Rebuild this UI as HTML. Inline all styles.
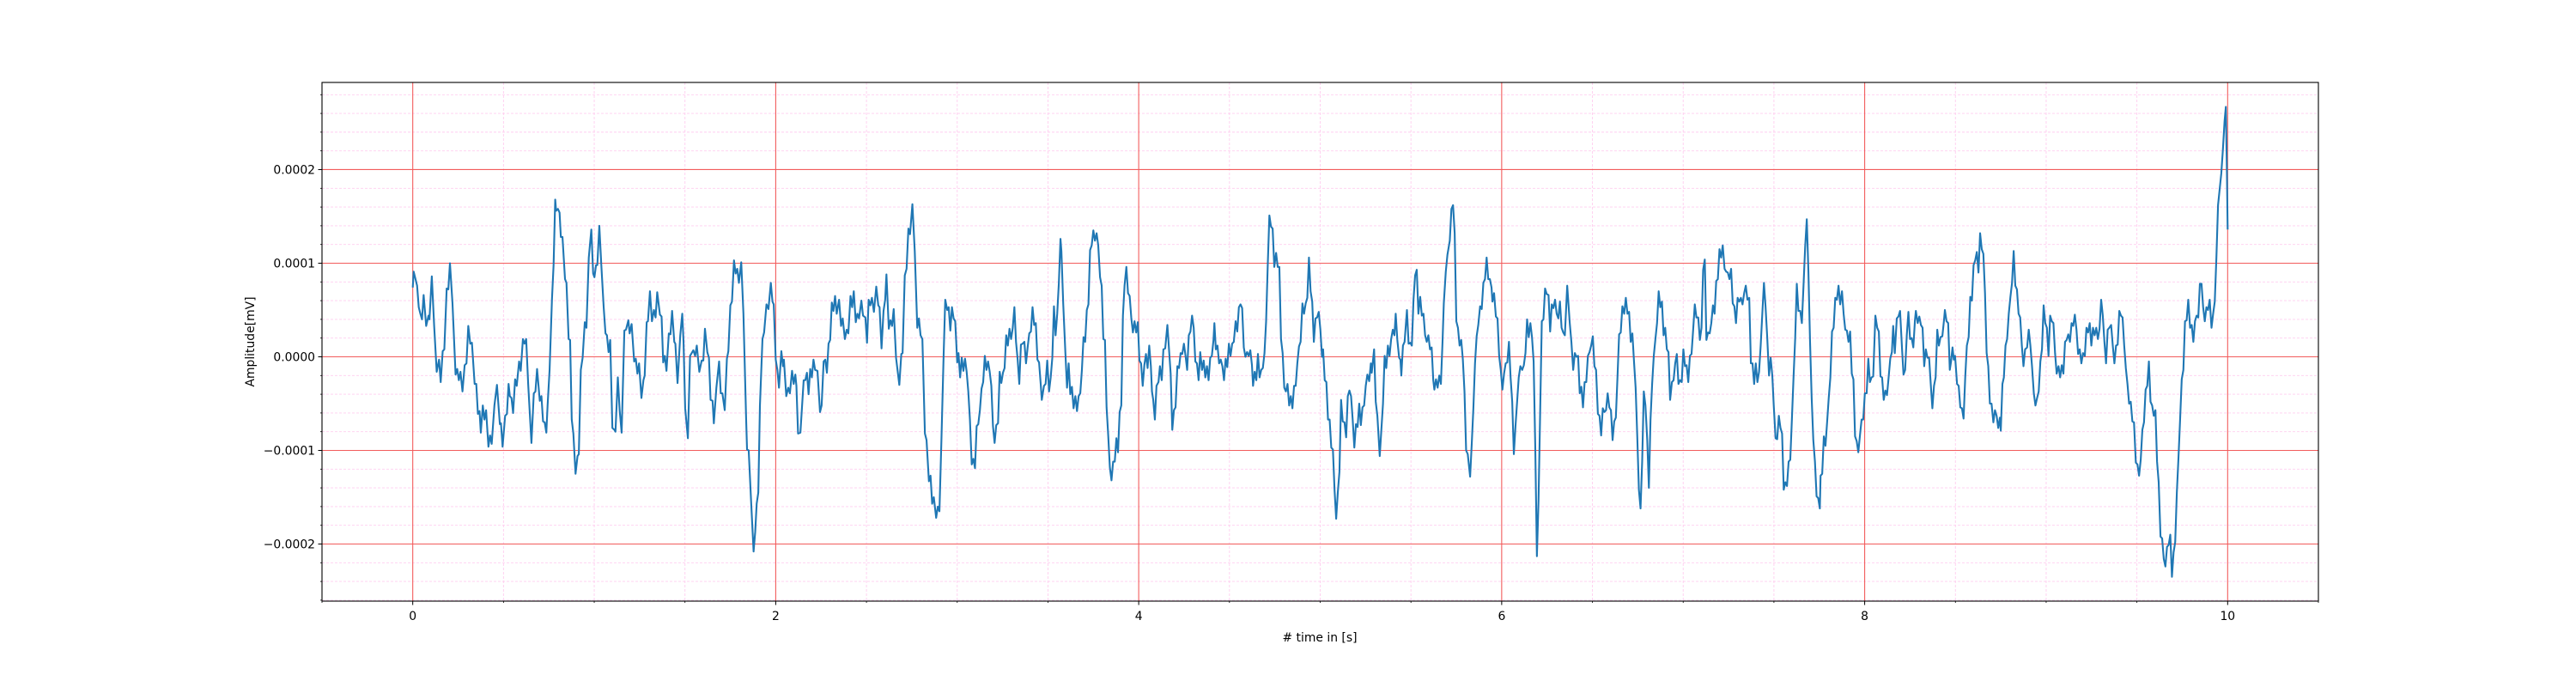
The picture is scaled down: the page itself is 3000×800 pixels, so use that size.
<!DOCTYPE html>
<html><head><meta charset="utf-8"><title>Signal</title>
<style>
html,body{margin:0;padding:0;background:#fff;}
svg{display:block;font-family:"DejaVu Sans","Liberation Sans",sans-serif;}
</style></head>
<body>
<svg id="chart" width="3000" height="800" viewBox="0 0 3000 800" xmlns="http://www.w3.org/2000/svg">
<rect x="0" y="0" width="3000" height="800" fill="#fff"/>
<g id="minor-grid"></g>
<g id="major-grid"></g>
<g id="series"></g>
<g id="axes"></g>
<text x="1537" y="747" font-size="13.9" text-anchor="middle" fill="#000"># time in [s]</text>
<text transform="translate(296,398) rotate(-90)" font-size="13.9" text-anchor="middle" fill="#000">Amplitude[mV]</text>
</svg>
<script>
const xTicks = [0, 2, 4, 6, 8, 10];
const xTickLabels = ["0", "2", "4", "6", "8", "10"];
const yTicks = [0.0002, 0.0001, 0, -0.0001, -0.0002];
const yTickLabels = ["0.0002", "0.0001", "0.0000", "\u22120.0001", "\u22120.0002"];
const valueScale = 1e-6;
const T = [0,0.005,0.024,0.033,0.042,0.051,0.060,0.074,0.087,0.092,0.105,0.118,0.132,0.145,0.154,0.165,0.174,0.187,0.196,0.205,0.219,0.236,0.245,0.254,0.263,0.274,0.286,0.296,0.306,0.317,0.326,0.341,0.350,0.359,0.368,0.375,0.386,0.395,0.404,0.417,0.426,0.435,0.450,0.464,0.480,0.486,0.495,0.509,0.519,0.528,0.535,0.544,0.553,0.564,0.573,0.586,0.595,0.607,0.616,0.625,0.636,0.654,0.667,0.676,0.685,0.700,0.709,0.718,0.727,0.736,0.743,0.754,0.767,0.776,0.785,0.790,0.800,0.809,0.816,0.825,0.839,0.847,0.859,0.867,0.876,0.885,0.897,0.908,0.915,0.926,0.936,0.948,0.957,0.970,0.984,0.994,1.001,1.010,1.017,1.028,1.039,1.052,1.062,1.070,1.079,1.088,1.093,1.100,1.111,1.117,1.130,1.140,1.151,1.166,1.175,1.188,1.195,1.206,1.220,1.229,1.238,1.247,1.260,1.271,1.278,1.289,1.296,1.307,1.318,1.329,1.338,1.347,1.362,1.371,1.380,1.389,1.398,1.411,1.420,1.429,1.441,1.447,1.459,1.474,1.485,1.492,1.501,1.516,1.528,1.537,1.546,1.556,1.565,1.579,1.592,1.601,1.610,1.623,1.632,1.641,1.652,1.659,1.673,1.688,1.697,1.706,1.719,1.731,1.739,1.750,1.759,1.770,1.779,1.788,1.797,1.810,1.822,1.837,1.842,1.851,1.864,1.878,1.887,1.895,1.904,1.913,1.927,1.936,1.949,1.960,1.973,1.982,1.989,2.000,2.009,2.018,2.031,2.040,2.045,2.058,2.069,2.078,2.090,2.099,2.108,2.114,2.123,2.136,2.154,2.163,2.172,2.181,2.190,2.199,2.208,2.217,2.230,2.244,2.253,2.264,
2.273,2.282,2.291,2.300,2.309,2.318,2.327,2.336,2.349,2.360,2.369,2.381,2.391,2.400,2.412,2.421,2.430,2.441,2.450,2.459,2.472,2.481,2.494,2.503,2.512,2.521,2.530,2.541,2.554,2.565,2.572,2.583,2.594,2.603,2.610,2.623,2.632,2.641,2.650,2.663,2.681,2.692,2.699,2.711,2.721,2.731,2.740,2.753,2.766,2.780,2.789,2.798,2.808,2.822,2.831,2.844,2.853,2.862,2.871,2.884,2.893,2.902,2.913,2.925,2.934,2.945,2.953,2.962,2.971,2.980,2.989,3.000,3.007,3.016,3.025,3.034,3.043,3.052,3.061,3.070,3.080,3.089,3.098,3.107,3.116,3.125,3.134,3.143,3.152,3.161,3.170,3.179,3.188,3.197,3.206,3.215,3.225,3.234,3.243,3.252,3.261,3.270,3.279,3.288,3.297,3.306,3.315,3.324,3.333,3.342,3.351,3.360,3.370,3.379,3.388,3.397,3.406,3.415,3.424,3.433,3.442,3.451,3.460,3.466,3.478,3.487,3.496,3.506,3.515,3.524,3.533,3.542,3.551,3.560,3.569,3.574,3.584,3.596,3.605,3.614,3.623,3.632,3.641,3.651,3.660,3.669,3.678,3.687,3.696,3.705,3.714,3.723,3.732,3.741,3.750,3.759,3.768,3.777,3.787,3.796,3.805,3.814,3.823,3.832,3.841,3.850,3.859,3.868,3.877,3.886,3.895,3.904,3.913,3.922,3.932,3.941,3.950,3.959,3.968,3.977,3.986,3.995,4.004,4.013,4.022,4.031,4.040,4.049,4.058,4.067,4.073,4.080,4.089,4.098,4.109,4.117,4.127,4.136,4.146,4.158,4.167,4.176,4.185,4.194,4.203,4.213,4.222,4.231,4.240,4.249,4.258,4.267,4.276,4.285,4.294,4.303,4.312,4.321,4.330,4.339,4.349,4.358,4.367,4.376,4.385,4.394,4.403,4.412,4.417,4.425,4.434,4.443,4.452,4.461,4.470,4.479,4.488,4.497,4.506,4.515,4.524,4.534,4.543,4.552,4.561,4.570,4.579,4.588,4.597,4.606,4.615,4.624,4.630,4.639,4.648,4.657,4.666,4.675,4.684,4.693,4.702,4.711,4.720,4.729,4.738,4.747,4.757,4.766,4.775,4.784,4.793,4.802,4.811,4.820,4.829,4.838,4.847,4.856,4.865,4.874,4.883,4.892,4.902,4.911,4.920,4.929,4.938,4.947,4.956,4.965,4.974,4.983,4.992,5.001,5.010,
5.016,5.025,5.034,5.043,5.052,5.061,5.070,5.079,5.088,5.097,5.106,5.115,5.124,5.134,5.143,5.152,5.161,5.170,5.179,5.188,5.197,5.206,5.215,5.224,5.233,5.242,5.251,5.260,5.270,5.279,5.284,5.297,5.306,5.315,5.328,5.337,5.346,5.355,5.364,5.373,5.382,5.391,5.400,5.409,5.416,5.425,5.435,5.442,5.447,5.456,5.465,5.478,5.487,5.496,5.505,5.514,5.523,5.532,5.541,5.551,5.560,5.569,5.578,5.587,5.596,5.605,5.614,5.623,5.629,5.638,5.647,5.656,5.665,5.674,5.681,5.692,5.701,5.714,5.723,5.732,5.741,5.750,5.759,5.768,5.777,5.786,5.795,5.804,5.813,5.826,5.835,5.844,5.853,5.862,5.871,5.881,5.890,5.899,5.908,5.917,5.926,5.935,5.944,5.949,5.958,5.968,5.977,5.986,5.995,6.004,6.013,6.022,6.031,6.040,6.049,6.058,6.067,6.076,6.085,6.094,6.103,6.113,6.122,6.131,6.140,6.149,6.158,6.167,6.176,6.185,6.194,6.203,6.212,6.221,6.230,6.239,6.248,6.258,6.267,6.276,6.285,6.294,6.303,6.312,6.321,6.330,6.339,6.348,6.361,6.375,6.384,6.394,6.403,6.412,6.421,6.430,6.439,6.448,6.457,6.466,6.475,6.484,6.493,6.502,6.511,6.520,6.530,6.539,6.548,6.557,6.566,6.575,6.584,6.593,6.602,6.611,6.620,6.629,6.638,6.647,6.656,6.665,6.675,6.684,6.693,6.702,6.711,6.720,6.729,6.738,6.747,6.756,6.765,6.774,6.783,6.792,6.802,6.811,6.820,6.829,6.838,6.847,6.856,6.865,6.874,6.883,6.892,6.901,6.910,6.919,6.928,6.938,6.947,6.956,6.965,6.974,6.983,6.992,7.001,7.010,7.019,7.028,7.037,7.046,7.055,7.064,7.073,7.083,7.092,7.101,7.110,7.119,7.128,7.137,7.146,7.155,7.164,7.173,7.182,7.191,7.200,7.209,7.218,7.228,7.237,7.246,7.255,7.264,7.273,7.282,7.291,7.300,7.309,7.318,7.327,7.336,7.345,7.354,7.364,7.373,7.382,7.391,7.400,7.409,7.418,7.427,7.436,7.445,7.454,7.463,7.473,7.482,7.491,7.499,7.509,7.518,7.527,7.536,7.545,7.554,7.563,7.572,7.581,7.590,7.599,7.608,7.617,7.626,7.635,7.645,7.654,7.663,7.672,7.681,7.690,7.699,7.708,7.717,7.726,7.735,7.744,7.753,
7.757,7.766,7.775,7.784,7.793,7.802,7.811,7.820,7.829,7.838,7.847,7.856,7.865,7.875,7.884,7.893,7.902,7.911,7.920,7.929,7.938,7.947,7.956,7.965,7.974,7.983,7.992,8.001,8.011,8.020,8.029,8.038,8.047,8.059,8.069,8.078,8.087,8.096,8.105,8.114,8.123,8.132,8.141,8.150,8.157,8.166,8.177,8.186,8.195,8.206,8.214,8.223,8.232,8.241,8.250,8.259,8.268,8.277,8.282,8.292,8.301,8.310,8.319,8.328,8.337,8.346,8.355,8.364,8.373,8.382,8.391,8.400,8.409,8.418,8.428,8.437,8.442,8.451,8.460,8.469,8.476,8.484,8.491,8.498,8.509,8.518,8.527,8.536,8.545,8.554,8.563,8.573,8.582,8.591,8.600,8.609,8.618,8.627,8.636,8.645,8.654,8.663,8.672,8.681,8.690,8.699,8.709,8.718,8.727,8.736,8.745,8.750,8.759,8.767,8.776,8.785,8.794,8.803,8.812,8.821,8.830,8.839,8.848,8.857,8.866,8.875,8.884,8.895,8.904,8.913,8.922,8.932,8.941,8.950,8.959,8.968,8.977,8.986,8.995,9.004,9.013,9.022,9.031,9.040,9.049,9.058,9.068,9.077,9.086,9.095,9.104,9.113,9.122,9.131,9.140,9.149,9.158,9.167,9.176,9.185,9.194,9.203,9.213,9.222,9.231,9.240,9.249,9.258,9.267,9.276,9.285,9.294,9.303,9.312,9.321,9.330,9.339,9.348,9.358,9.367,9.376,9.385,9.394,9.403,9.412,9.421,9.430,9.439,9.448,9.457,9.466,9.475,9.484,9.494,9.503,9.512,9.521,9.530,9.539,9.548,9.557,9.566,9.575,9.584,9.593,9.602,9.611,9.620,9.630,9.639,9.648,9.657,9.666,9.675,9.684,9.693,9.702,9.711,9.720,9.729,9.738,9.747,9.756,9.765,9.774,9.783,9.793,9.802,9.811,9.820,9.829,9.838,9.847,9.856,9.865,9.874,9.883,9.892,9.901,9.911,9.920,9.929,9.938,9.947,9.956,9.965,9.974,9.983,9.990,9.996,10.000];
const V = [74,91,76,53,46,40,66,33,44,40,86,33,-16,-3,-27,6,8,73,72,100,57,-19,-13,-25,-16,-37,-9,-7,33,14,15,-29,-29,-61,-58,-81,-52,-67,-57,-96,-84,-93,-52,-30,-72,-71,-96,-63,-61,-29,-42,-44,-60,-24,-31,-5,-15,19,14,19,-29,-92,-39,-37,-13,-47,-42,-69,-70,-81,-52,-14,61,98,168,156,158,154,128,128,83,79,19,18,-67,-82,-125,-106,-104,-14,-1,37,31,106,136,89,85,98,98,140,98,53,25,23,5,18,-22,-76,-78,-80,-22,-57,-81,28,29,39,25,35,-5,-2,-18,-7,-44,-25,-20,37,38,70,38,50,42,69,45,43,-6,1,-15,25,24,49,16,14,-28,23,46,16,-55,-87,1,4,7,1,12,-16,-4,-4,30,5,-1,-46,-47,-71,-33,-5,-39,-39,-57,-2,6,55,59,103,89,94,79,101,46,-67,-99,-100,-153,-208,-187,-157,-145,-52,19,26,56,51,79,59,56,-3,-14,-33,6,-10,-3,-42,-33,-39,-15,-29,-19,-31,-82,-81,-25,-25,-17,-40,-13,-22,-3,-14,-15,-59,-52,-5,
-3,-17,14,18,58,49,65,46,61,33,41,19,29,25,65,53,70,37,46,41,60,44,42,15,61,55,63,48,75,55,53,9,49,61,88,30,39,33,51,-1,-30,3,4,87,94,137,131,163,113,31,41,23,19,-82,-89,-133,-127,-157,-150,-172,-160,-165,-89,1,61,50,53,28,53,41,38,-6,4,-22,-1,-15,-2,-16,-37,-67,-115,-109,-119,-74,-72,-57,-34,-27,1,-14,-5,-16,-31,-74,-92,-73,-71,-16,-28,-17,-12,23,12,30,19,31,53,16,-3,-29,13,14,16,-7,10,25,27,53,34,36,-3,-6,-29,-46,-31,-29,-4,-37,-22,-1,54,23,46,79,126,113,57,4,-33,-7,-40,-32,-55,-42,-58,-42,-39,-14,21,16,50,56,114,119,135,124,132,119,85,76,19,18,-54,-84,-118,-132,-112,-112,-87,-102,-59,-52,44,76,96,68,65,42,26,38,26,37,-4,-7,-31,-9,3,-12,12,-10,-37,-46,-67,-31,-27,-10,-25,8,9,34,8,-18,-78,-57,-54,-10,-12,4,3,14,1,-14,23,27,44,31,-5,-7,-25,5,-14,-4,-22,-10,-25,-1,1,18,36,8,12,-7,-3,-10,-25,-2,-11,14,1,14,16,38,27,53,56,52,10,0,5,1,7,-9,-31,-16,-25,3,-22,-14,-12,4,38,98,151,139,137,96,111,96,96,19,4,-33,-37,-29,-52,-42,-55,-31,-31,-7,11,16,57,46,57,63,106,70,59,16,41,42,48,29,0,
8,-25,-27,-67,-67,-97,-99,-142,-173,-145,-123,-46,-69,-70,-86,-42,-36,-42,-67,-97,-72,-75,-50,-73,-54,-52,-31,-19,-26,-7,-17,8,-48,-63,-106,-78,-50,1,-12,12,1,19,29,23,46,18,-1,-3,-20,12,16,50,14,15,12,61,87,93,46,64,44,46,23,16,23,8,10,-25,-35,-24,-33,-20,-29,16,57,91,109,124,158,162,132,38,31,12,18,-3,-37,-100,-104,-128,-93,-55,-7,22,34,54,51,79,83,106,83,83,74,59,68,43,41,1,-14,-35,-18,-7,-6,16,-22,-48,-104,-74,-48,-22,-10,-14,-9,4,40,21,36,21,-5,-97,-213,-153,-59,38,40,73,67,66,27,56,52,61,46,41,59,31,26,23,76,36,16,-14,4,0,1,-39,-32,-54,-27,-27,1,5,12,22,-10,-14,-61,-63,-84,-55,-59,-57,-39,-54,-57,-89,-69,-65,-22,24,26,54,46,63,46,48,16,25,-5,-33,-85,-142,-162,-112,-37,-52,-89,-140,-67,-29,1,19,36,70,53,59,23,31,8,5,-46,-27,-25,-7,3,-29,-25,-27,8,-10,-9,-27,1,3,29,56,42,42,18,31,93,104,18,26,25,36,55,46,81,83,115,106,119,94,91,90,83,94,57,54,36,63,59,63,56,68,76,61,63,-7,-7,-29,-7,-27,-16,12,46,79,53,21,-20,-1,-20,-52,-87,-88,-63,-76,-82,-142,-134,-138,-112,-110,-67,-22,19,78,49,49,36,76,117,147,91,16,-44,-89,-112,-149,-151,-162,
-127,-125,-85,-95,-70,-44,-22,27,31,63,61,76,56,70,46,29,28,16,27,-18,-24,-85,-90,-102,-84,-67,-67,-39,-39,-2,-27,-22,-21,44,31,27,-21,-22,-46,-36,-41,-22,-2,5,33,4,41,43,49,8,-19,-14,23,48,19,20,10,39,49,36,43,34,31,-10,8,-1,-1,-29,-55,-31,-22,29,12,21,22,39,50,38,36,-14,-5,10,-3,1,-29,-31,-54,-55,-66,-22,12,21,64,60,98,103,112,90,132,115,110,68,4,-10,-50,-50,-70,-57,-63,-76,-65,-79,-29,-22,12,19,46,64,79,113,76,72,46,42,12,-10,8,10,29,12,-10,-39,-52,-44,-37,-5,8,55,36,31,1,44,38,36,4,-18,-10,-22,-9,-18,16,18,24,16,36,33,45,29,3,8,-7,4,1,31,26,36,12,31,23,31,19,30,61,44,16,-7,29,31,34,12,-7,12,13,49,44,42,12,-12,-29,-50,-48,-69,-70,-113,-115,-127,-110,-78,-70,-35,-31,-5,-48,-52,-63,-57,-112,-134,-192,-194,-216,-224,-203,-201,-190,-235,-209,-198,-145,-108,-67,-24,-14,38,39,61,31,34,16,38,44,42,78,78,53,38,53,50,61,31,46,59,106,162,179,196,222,252,267,196,136];

const NS = "http://www.w3.org/2000/svg";
const PX0 = 375, PX1 = 2700, PY0 = 96, PY1 = 700;
const XMIN = -0.5, XMAX = 10.5, YMIN = -2.610e-4, YMAX = 2.931e-4;
function xs(t){ return PX0 + (t - XMIN) / (XMAX - XMIN) * (PX1 - PX0); }
function ys(v){ return PY1 - (v - YMIN) / (YMAX - YMIN) * (PY1 - PY0); }
function mk(tag, attrs, parent){
  const e = document.createElementNS(NS, tag);
  for (const k in attrs) e.setAttribute(k, attrs[k]);
  parent.appendChild(e);
  return e;
}
const minorG = document.getElementById('minor-grid');
const majorG = document.getElementById('major-grid');
const seriesG = document.getElementById('series');
const axesG = document.getElementById('axes');

// minor grid
for (let i = -1; i <= 21; i++) {
  const t = i * 0.5;
  if (t < XMIN || t > XMAX || i % 4 === 0) continue;
  const X = xs(t);
  const l = mk('line', {x1:X, x2:X, y1:PY0, y2:PY1, stroke:'#ffcdef', 'stroke-width':0.9, 'stroke-dasharray':'3,2'}, minorG);
  
  
  const tk = mk('line', {x1:X, x2:X, y1:PY1, y2:PY1+2, stroke:'#000', 'stroke-width':0.8}, axesG);
  
  
}
for (let i = -14; i <= 15; i++) {
  const v = i * 2e-5;
  if (v < YMIN || v > YMAX || i % 5 === 0) continue;
  const Y = ys(v);
  const l = mk('line', {x1:PX0, x2:PX1, y1:Y, y2:Y, stroke:'#ffcdef', 'stroke-width':0.9, 'stroke-dasharray':'3,2'}, minorG);
  
  
  const tk = mk('line', {x1:PX0-2, x2:PX0, y1:Y, y2:Y, stroke:'#000', 'stroke-width':0.8}, axesG);
  
  
}
// major grid + ticks
xTicks.forEach((t, i) => {
  const X = xs(t);
  const l = mk('line', {x1:X, x2:X, y1:PY0, y2:PY1, stroke:'#f25c5c', 'stroke-width':1.1}, majorG);
  
  
  const tk = mk('line', {x1:X, x2:X, y1:PY1, y2:PY1+4.5, stroke:'#000', 'stroke-width':1}, axesG);
  
  
  const tx = mk('text', {x:X, y:PY1+22, 'font-size':13.9, 'text-anchor':'middle', fill:'#000'}, axesG);
  tx.textContent = xTickLabels[i];
  
  
});
yTicks.forEach((v, i) => {
  const Y = ys(v);
  const l = mk('line', {x1:PX0, x2:PX1, y1:Y, y2:Y, stroke:'#f25c5c', 'stroke-width':1.1}, majorG);
  
  
  const tk = mk('line', {x1:PX0-4.5, x2:PX0, y1:Y, y2:Y, stroke:'#000', 'stroke-width':1}, axesG);
  
  
  const tx = mk('text', {x:PX0-8, y:Y+5, 'font-size':13.9, 'text-anchor':'end', fill:'#000'}, axesG);
  tx.textContent = yTickLabels[i];
  
  
});
// series
let d = '';
for (let i = 0; i < T.length; i++) {
  d += (i ? 'L' : 'M') + xs(T[i]).toFixed(2) + ',' + ys(V[i] * valueScale).toFixed(2);
}
const path = mk('path', {d:d, fill:'none', stroke:'#1f77b4', 'stroke-width':2.1, 'stroke-linejoin':'round'}, seriesG);


// frame
const frame = mk('rect', {x:PX0, y:PY0, width:PX1-PX0, height:PY1-PY0, fill:'none', stroke:'#000', 'stroke-width':1.1}, axesG);


</script>
</body></html>
